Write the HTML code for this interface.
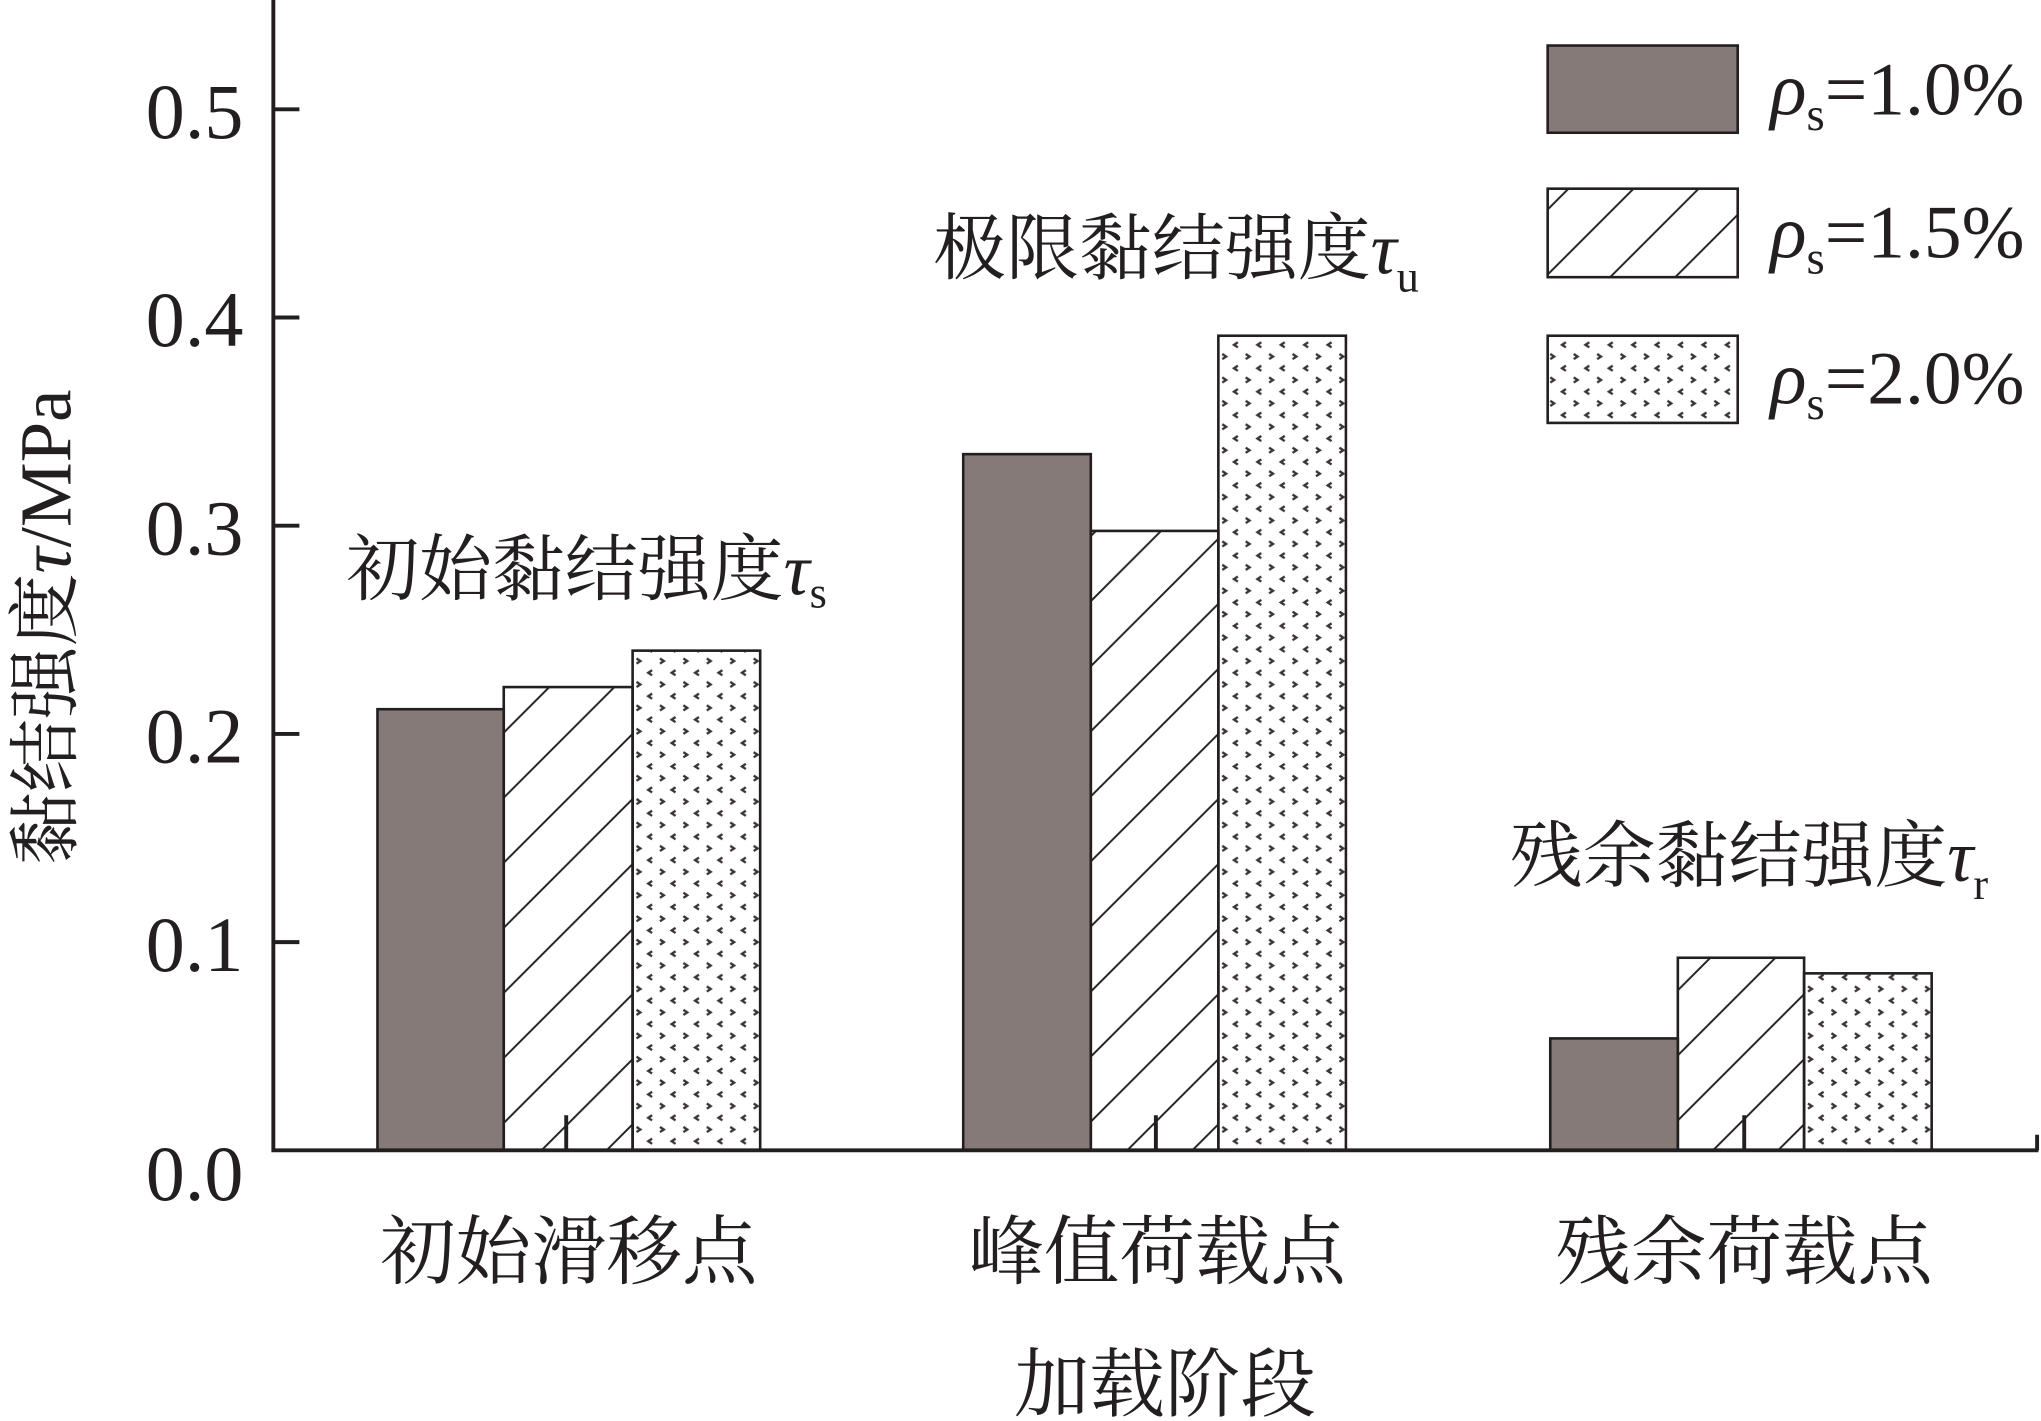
<!DOCTYPE html>
<html><head><meta charset="utf-8"><style>html,body{margin:0;padding:0;background:#fff}svg{display:block}</style></head>
<body>
<svg width="2041" height="1421" viewBox="0 0 1568 1092" preserveAspectRatio="none" xmlns="http://www.w3.org/2000/svg">
<defs>
<pattern id="h" patternUnits="userSpaceOnUse" width="50" height="50">
<path d="M-5,55 L55,-5 M-5,5 L5,-5 M45,55 L55,45" stroke="#231f20" stroke-width="1.5"/>
</pattern>
<pattern id="d" patternUnits="userSpaceOnUse" width="18" height="18">
<path d="M3,2 L6,4 L3,6 M15,11 L12,13 L15,15" stroke="#3a3436" stroke-width="1.8" fill="none"/>
</pattern>
</defs>
<g font-family="Liberation Serif, Noto Serif CJK SC, serif" fill="#231f20">
<g stroke="#231f20" stroke-width="2">
<rect x="290" y="545" width="97" height="339" fill="#857a78"/>
<rect x="387" y="528" width="99" height="356" fill="url(#h)"/>
<rect x="486" y="500" width="98" height="384" fill="url(#d)"/>
<rect x="740" y="349" width="98" height="535" fill="#857a78"/>
<rect x="838" y="408" width="98" height="476" fill="url(#h)"/>
<rect x="936" y="258" width="98" height="626" fill="url(#d)"/>
<rect x="1191" y="798" width="98" height="86" fill="#857a78"/>
<rect x="1289" y="736" width="97" height="148" fill="url(#h)"/>
<rect x="1386" y="748" width="98" height="136" fill="url(#d)"/>
<rect x="1189" y="35" width="146" height="67" fill="#857a78"/>
<rect x="1189" y="145" width="146" height="68" fill="url(#h)"/>
<rect x="1189" y="258" width="146" height="67" fill="url(#d)"/>
</g>
<g stroke="#231f20" stroke-width="3" fill="none">
<path d="M210,0 L210,884 L1566,884"/>
<path d="M210,84 H230 M210,244 H230 M210,404 H230 M210,564 H230 M210,724 H230"/>
<path d="M435,884 V857 M888,884 V857 M1340,884 V857 M1565,884 V872"/>
</g>
<g font-size="60" text-anchor="end">
<text x="187" y="106">0.5</text>
<text x="187" y="266">0.4</text>
<text x="187" y="426">0.3</text>
<text x="187" y="586">0.2</text>
<text x="187" y="746">0.1</text>
<text x="187" y="922">0.0</text>
</g>
<g font-size="58" text-anchor="middle">
<text x="437" y="982">初始滑移点</text>
<text x="889" y="982">峰值荷载点</text>
<text x="1340" y="982">残余荷载点</text>
<text x="895" y="1084">加载阶段</text>
</g>
<text transform="translate(54,482) rotate(-90)" font-size="56" text-anchor="middle">黏结强度<tspan font-style="italic">τ</tspan>/MPa</text>
<g font-size="56">
<text x="266" y="457">初始黏结强度<tspan font-style="italic">τ</tspan><tspan font-size="34" dy="10">s</tspan></text>
<text x="717" y="210">极限黏结强度<tspan font-style="italic">τ</tspan><tspan font-size="34" dy="14">u</tspan></text>
<text x="1160" y="677">残余黏结强度<tspan font-style="italic">τ</tspan><tspan font-size="34" dy="14">r</tspan></text>
</g>
<g font-size="58">
<text x="1360" y="88"><tspan font-style="italic">ρ</tspan><tspan font-size="36" dy="12">s</tspan><tspan dy="-12">=1.0%</tspan></text>
<text x="1360" y="198"><tspan font-style="italic">ρ</tspan><tspan font-size="36" dy="12">s</tspan><tspan dy="-12">=1.5%</tspan></text>
<text x="1360" y="310"><tspan font-style="italic">ρ</tspan><tspan font-size="36" dy="12">s</tspan><tspan dy="-12">=2.0%</tspan></text>
</g>
</g>
</svg>
</body></html>
